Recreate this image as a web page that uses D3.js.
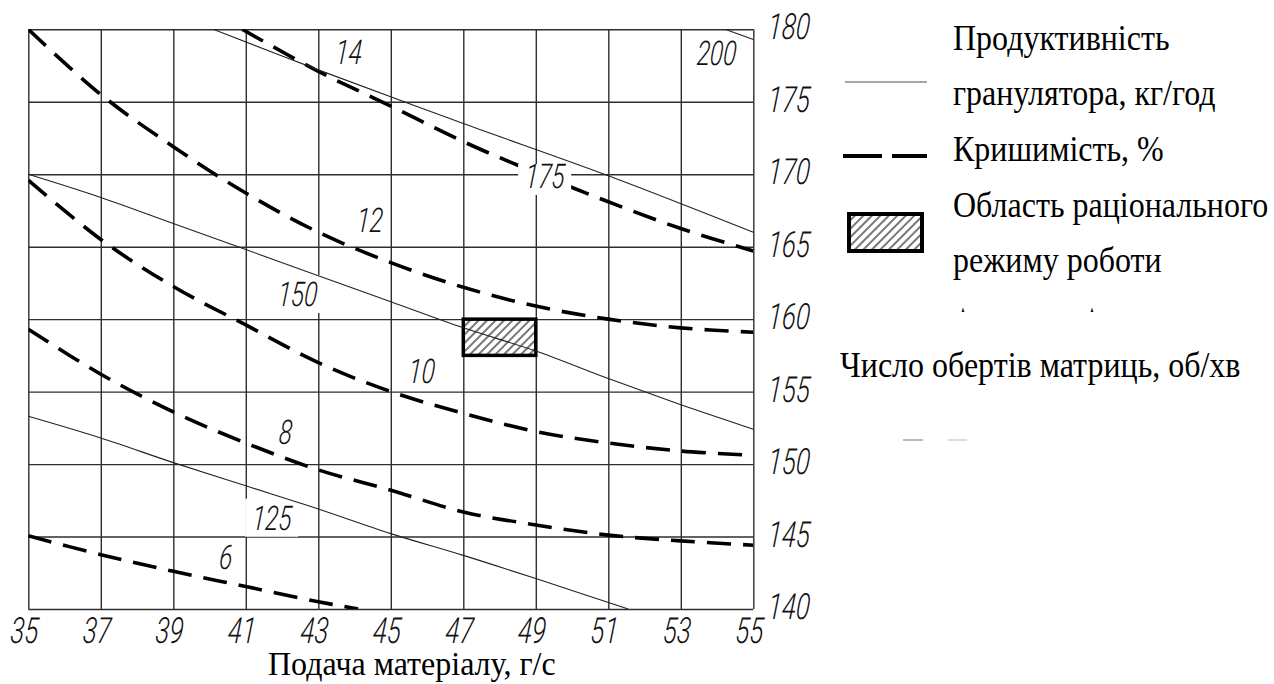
<!DOCTYPE html>
<html>
<head>
<meta charset="utf-8">
<script src="https://cdn.jsdelivr.net/npm/d3@7"></script>
<style>
  html, body { margin: 0; padding: 0; background: #fff; }
  svg { display: block; }
</style>
</head>
<body>
<svg id="chart" width="1274" height="684"></svg>
<script>
// Axis ticks
const xTicks = [35, 37, 39, 41, 43, 45, 47, 49, 51, 53, 55];        // feed, g/s
const yTicks = [140, 145, 150, 155, 160, 165, 170, 175, 180];       // die speed, rpm

// Crumbliness isolines, % (feed -> die speed)
const crumb14Feed = [40.9, 43, 45, 47, 49, 51, 53, 55];
const crumb14Rpm  = [180, 177.1, 174.7, 172.25, 170.1, 168.1, 166.25, 164.7];
const crumb12Feed = [35, 37, 39, 41, 43, 45, 47, 49, 51, 53, 55];
const crumb12Rpm  = [180, 175.5, 171.9, 168.7, 166.0, 163.9, 162.2, 160.9, 160.0, 159.4, 159.1];
const crumb10Feed = [35, 37, 39, 41, 43, 45, 47, 49, 51, 53, 55];
const crumb10Rpm  = [169.6, 165.5, 162.25, 159.6, 157.0, 155.0, 153.5, 152.25, 151.45, 150.9, 150.6];
const crumb8Feed  = [35, 37, 39, 41, 43, 45, 47, 49, 51, 53, 55];
const crumb8Rpm   = [159.3, 156.2, 153.6, 151.45, 149.6, 148.2, 146.7, 145.8, 145.1, 144.7, 144.4];
const crumb6Feed  = [35, 37, 39, 41, 43, 44.1];
const crumb6Rpm   = [145.05, 143.75, 142.6, 141.55, 140.5, 140];

// Granulator output isolines, kg/h
const out200Feed = [54.22, 55];
const out200Rpm  = [180, 179.3];
const out175Feed = [40.1, 43, 47, 51, 55];
const out175Rpm  = [180, 177.2, 173.5, 169.9, 166.0];
const out150Feed = [35, 37, 39, 41, 43, 45, 47, 49, 51, 53, 55];
const out150Rpm  = [170, 168.4, 166.6, 164.8, 163.0, 161.2, 159.4, 157.8, 155.9, 154.1, 152.4];
const out125Feed = [35, 37, 39, 41, 43, 45, 47, 49, 51.55];
const out125Rpm  = [153.3, 151.8, 150.1, 148.5, 146.9, 145.2, 143.7, 142.1, 140];

// Rational operating region: feed range and speed range
const regionFeed = [47, 49];
const regionRpm  = [157.5, 160];

const crumbSeries = [
  { level: "14", feed: crumb14Feed, rpm: crumb14Rpm },
  { level: "12", feed: crumb12Feed, rpm: crumb12Rpm },
  { level: "10", feed: crumb10Feed, rpm: crumb10Rpm },
  { level: "8",  feed: crumb8Feed,  rpm: crumb8Rpm },
  { level: "6",  feed: crumb6Feed,  rpm: crumb6Rpm }
];
const outputSeries = [
  { level: "200", feed: out200Feed, rpm: out200Rpm },
  { level: "175", feed: out175Feed, rpm: out175Rpm },
  { level: "150", feed: out150Feed, rpm: out150Rpm },
  { level: "125", feed: out125Feed, rpm: out125Rpm }
];

// Where each isoline's value is written (data coordinates); knockout = clears lines behind it
const labelSpots = [
  { text: "14",  at: [43.82, 178.43], knockout: null },
  { text: "12",  at: [44.40, 166.85], knockout: null },
  { text: "10",  at: [45.83, 156.44], knockout: null },
  { text: "8",   at: [42.08, 152.23], knockout: null },
  { text: "6",   at: [40.43, 143.61], knockout: null },
  { text: "200", at: [53.97, 178.37], knockout: null },
  { text: "175", at: [49.23, 169.88], knockout: "over" },
  { text: "150", at: [42.41, 161.74], knockout: "under" },
  { text: "125", at: [41.70, 146.30], knockout: "under" }
];

const W = 1274, H = 684;
const plot = { left: 28.3, right: 753.3, top: 29.3, bottom: 609 };
const gridColor = "#2e2e2e";
const inkColor = "#111";

const svg = d3.select("#chart");
svg.append("rect").attr("width", W).attr("height", H).attr("fill", "#fff");

const x = d3.scaleLinear().domain([35, 55]).range([plot.left, plot.right]);
const y = d3.scaleLinear().domain([140, 180]).range([plot.bottom, plot.top]);

// Hatch pattern for the operating region
const defs = svg.append("defs");
const pat = defs.append("pattern")
  .attr("id", "hatch").attr("patternUnits", "userSpaceOnUse")
  .attr("width", 6).attr("height", 6)
  .attr("patternTransform", "rotate(45)");
pat.append("rect").attr("width", 6).attr("height", 6).attr("fill", "#fff");
pat.append("line").attr("x1", 1).attr("y1", -1).attr("x2", 1).attr("y2", 7)
  .attr("stroke", "#1a1a1a").attr("stroke-width", 1.2);

defs.append("clipPath").attr("id", "plotClip")
  .append("rect").attr("x", plot.left).attr("y", plot.top)
  .attr("width", plot.right - plot.left).attr("height", plot.bottom - plot.top);

// Drafting-style digits: light italic, narrowed and slanted a bit more
const techShape = "scale(0.72,1) skewX(-6)";
function styleTech(sel, size) {
  sel.style("font-family", "Roboto, 'DejaVu Sans', sans-serif")
    .style("font-style", "italic")
    .style("font-weight", 300)
    .style("font-size", size + "px")
    .attr("fill", inkColor);
}

// Grid + bottom axis
const gx = svg.append("g")
  .attr("transform", `translate(0,${plot.bottom})`)
  .call(d3.axisBottom(x).tickValues(xTicks).tickSize(-(plot.bottom - plot.top)).tickFormat(d3.format("d")));
gx.select(".domain").remove();
gx.selectAll(".tick line").attr("stroke", gridColor).attr("stroke-width", 1.4);
gx.selectAll(".tick text")
  .attr("y", null).attr("dy", null)
  .attr("text-anchor", "middle")
  .attr("transform", `translate(-5,34) ${techShape}`)
  .call(styleTech, 36);

// Grid + right axis
const gy = svg.append("g")
  .attr("transform", `translate(${plot.right},0)`)
  .call(d3.axisRight(y).tickValues(yTicks).tickSize(-(plot.right - plot.left)).tickFormat(d3.format("d")));
gy.select(".domain").remove();
gy.selectAll(".tick line").attr("stroke", gridColor).attr("stroke-width", 1.4);
gy.selectAll(".tick text")
  .attr("x", null).attr("dy", null)
  .attr("text-anchor", "start")
  .attr("transform", `translate(14,9.5) ${techShape}`)
  .call(styleTech, 36);

// Label knockout boxes
function knockoutBox(g, d) {
  const cx = x(d.at[0]), cy = y(d.at[1]);
  const top = d.knockout === "over" ? cy - 12 : cy - 19;
  g.append("rect")
    .attr("x", cx - 26).attr("y", top)
    .attr("width", 53).attr("height", cy + 19 - top)
    .attr("fill", "#fff");
}
const underG = svg.append("g");
labelSpots.filter(d => d.knockout === "under").forEach(d => knockoutBox(underG, d));

const line = d3.line().x(d => x(d[0])).y(d => y(d[1])).curve(d3.curveCatmullRom.alpha(0.5));

// Crumbliness isolines (heavy dashed)
const curvesG = svg.append("g").attr("clip-path", "url(#plotClip)");
curvesG.selectAll("path.crumb")
  .data(crumbSeries)
  .join("path")
  .attr("class", "crumb")
  .attr("d", s => line(d3.zip(s.feed, s.rpm)))
  .attr("fill", "none")
  .attr("stroke", "#000")
  .attr("stroke-width", 3.6)
  .attr("stroke-dasharray", "24,12");

const overG = svg.append("g");
labelSpots.filter(d => d.knockout === "over").forEach(d => knockoutBox(overG, d));

// Rational operating region
svg.append("rect")
  .attr("x", x(regionFeed[0])).attr("y", y(regionRpm[1]))
  .attr("width", x(regionFeed[1]) - x(regionFeed[0]))
  .attr("height", y(regionRpm[0]) - y(regionRpm[1]))
  .attr("fill", "url(#hatch)")
  .attr("stroke", "#000").attr("stroke-width", 3.5);

// Output isolines (thin solid), on top of the region
const outG = svg.append("g").attr("clip-path", "url(#plotClip)");
outG.selectAll("path.out")
  .data(outputSeries)
  .join("path")
  .attr("class", "out")
  .attr("d", s => line(d3.zip(s.feed, s.rpm)))
  .attr("fill", "none")
  .attr("stroke", "#222")
  .attr("stroke-width", 1.1);

// Isoline values
const labelsG = svg.append("g");
labelSpots.forEach(d => {
  labelsG.append("text")
    .attr("text-anchor", "middle")
    .attr("transform", `translate(${x(d.at[0])},${y(d.at[1]) + 12}) ${techShape}`)
    .call(styleTech, 34)
    .text(d.text);
});

// Serif captions, slightly tall
const serif = "'Liberation Serif', 'Times New Roman', serif";
function caption(g, str, px, py, anchor, sy) {
  g.append("text")
    .attr("transform", `translate(${px},${py}) scale(1,${sy})`)
    .attr("text-anchor", anchor)
    .style("font-family", serif).style("font-size", "32px")
    .attr("fill", "#000")
    .text(str);
}

// Axis title
caption(svg, "Подача матеріалу, г/с", 268, 675, "start", 1.06);

// Legend
const legend = svg.append("g");
legend.append("line")
  .attr("x1", 845).attr("x2", 927).attr("y1", 82).attr("y2", 82)
  .attr("stroke", "#888").attr("stroke-width", 1.6);
legend.append("line")
  .attr("x1", 843).attr("x2", 927).attr("y1", 156).attr("y2", 156)
  .attr("stroke", "#000").attr("stroke-width", 4)
  .attr("stroke-dasharray", "39,10");
legend.append("rect")
  .attr("x", 849).attr("y", 214).attr("width", 73).attr("height", 37)
  .attr("fill", "url(#hatch)")
  .attr("stroke", "#000").attr("stroke-width", 4);

const legendText = [
  { t: "Продуктивність", x: 953, y: 50 },
  { t: "гранулятора, кг/год", x: 953, y: 105 },
  { t: "Кришимість, %", x: 953, y: 161 },
  { t: "Область раціонального", x: 953, y: 217 },
  { t: "режиму роботи", x: 953, y: 272 },
  { t: "Число обертів матриць, об/хв", x: 840, y: 377 }
];
legendText.forEach(d => caption(legend, d.t, d.x, d.y, "start", 1.1));

// Small stray marks beside the legend
legend.append("path").attr("d", "M961.5,312 L963,307.5 L964.5,312 Z").attr("fill", "#222");
legend.append("path").attr("d", "M1090.5,312 L1092,307.5 L1093.5,312 Z").attr("fill", "#222");
legend.append("rect").attr("x", 903).attr("y", 439).attr("width", 20).attr("height", 2).attr("fill", "#bbb");
legend.append("rect").attr("x", 948).attr("y", 439).attr("width", 19).attr("height", 2).attr("fill", "#ddd");
</script>
</body>
</html>
